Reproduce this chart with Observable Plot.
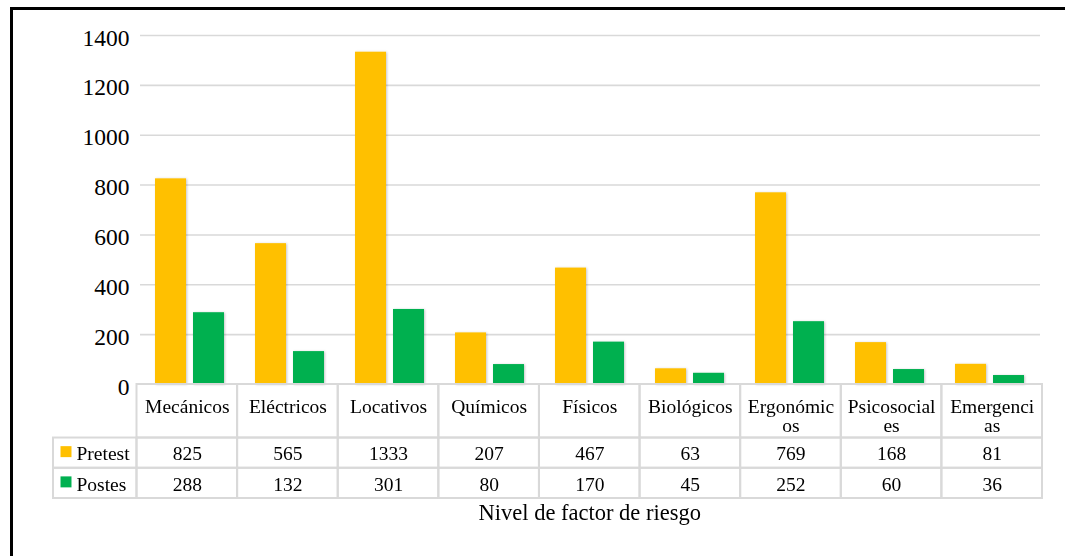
<!DOCTYPE html>
<html><head><meta charset="utf-8">
<script src="https://cdn.jsdelivr.net/npm/d3@7"></script>
<script src="https://cdn.jsdelivr.net/npm/@observablehq/plot@0.6"></script>
<style>
html,body{margin:0;padding:0;background:#fff;overflow:hidden;}
#wrap{position:relative;width:1065px;height:556px;overflow:hidden;background:#fff;}
#hline{position:absolute;left:9.5px;top:7px;width:1060px;height:3px;background:#000;}
#vline{position:absolute;left:9.5px;top:7px;width:3px;height:560px;background:#000;}
#chart,#table{position:absolute;left:0;top:0;}
</style></head><body>
<div id="wrap"><div id="hline"></div><div id="vline"></div><div id="chart"></div><div id="table"></div></div>
<script>
const categories = ["Mecánicos","Eléctricos","Locativos","Químicos","Físicos","Biológicos","Ergonómicos","Psicosociales","Emergencias"];
const tickLabels = ["Mecánicos","Eléctricos","Locativos","Químicos","Físicos","Biológicos","Ergonómic\nos","Psicosocial\nes","Emergenci\nas"];
const series = ["Pretest","Postes"];
const pretest = [825,565,1333,207,467,63,769,168,81];
const postes = [288,132,301,80,170,45,252,60,36];
const yTicks = [0,200,400,600,800,1000,1200,1400];
const colors = ["#FFC000","#00B050"];
const xTitle = "Nivel de factor de riesgo";

const values = {Pretest: pretest, Postes: postes};
const data = categories.flatMap((c,i) => series.map((s,j) => ({cat:c, ci:i, serie:s, si:j, value:values[s][i]})));

const font = '"Liberation Serif","Times New Roman",serif';
const grid = "#d9d9d9";

const chart = Plot.plot({
  width:1065, height:390, marginLeft:137, marginRight:23, marginTop:35, marginBottom:6,
  style:{fontFamily:font, fontSize:"23.5px", color:"#000", background:"transparent", overflow:"visible"},
  fx:{domain:categories, padding:0, axis:null},
  x:{domain:series, paddingInner:0.18, paddingOuter:0.38, axis:null},
  y:{domain:[0,1400], axis:null},
  color:{domain:series, range:colors},
  marks:[
    Plot.ruleY(yTicks.filter(d => d > 0), {stroke:grid, strokeWidth:1.6}),
    Plot.barY(data, {fx:"cat", x:"serie", y:"value", fill:"serie"}),
    Plot.axisY({ticks:yTicks, label:null, tickSize:0, tickPadding:11, tickFormat:d => String(d), fontSize:23.5, dy:2.5})
  ]
});
// subtle shadow like the original
const svg = d3.select(chart);
const defs = svg.insert("defs", ":first-child");
const f = defs.append("filter").attr("id","shadow").attr("x","-20%").attr("y","-20%").attr("width","140%").attr("height","140%");
f.append("feDropShadow").attr("dx",1).attr("dy",0.5).attr("stdDeviation",1).attr("flood-color","#000").attr("flood-opacity",0.22);
svg.selectAll('g[aria-label="bar"]').attr("filter","url(#shadow)");
document.getElementById("chart").appendChild(chart);

const legendW = 0.83;   // legend column width, in column units
const headerH = 1.77;   // header row height, in row units
const nRows = series.length;

const table = Plot.plot({
  width:1065, height:556, marginLeft:53, marginRight:23, marginTop:384, marginBottom:58,
  style:{fontFamily:font, fontSize:"19.5px", color:"#000", background:"transparent", overflow:"visible"},
  x:{domain:[-legendW, categories.length], axis:null},
  y:{domain:[0, headerH + nRows], reverse:true, axis:null},
  color:{domain:series, range:colors},
  marks:[
    Plot.rect(categories, {x1:(d,i) => i, x2:(d,i) => i + 1, y1:0, y2:headerH, stroke:grid, strokeWidth:2, fill:"none"}),
    Plot.rect(data, {x1:d => d.ci, x2:d => d.ci + 1, y1:d => headerH + d.si, y2:d => headerH + d.si + 1, stroke:grid, strokeWidth:2, fill:"none"}),
    Plot.rect(series, {x1:-legendW, x2:0, y1:(d,i) => headerH + i, y2:(d,i) => headerH + i + 1, stroke:grid, strokeWidth:2, fill:"none"}),
    Plot.text(tickLabels, {x:(d,i) => i + 0.5, y:0, text:d => d, lineAnchor:"top", dy:14.5, lineHeight:1, fill:"#000"}),
    Plot.text(data, {x:d => d.ci + 0.5, y:d => headerH + d.si + 0.5, text:d => String(d.value), lineAnchor:"middle", dy:1, fill:"#000"}),
    Plot.dot(series, {x:-legendW, y:(d,i) => headerH + i + 0.5, symbol:"square", r:6.2, fill:d => d, stroke:null, dx:12.5, dy:-1.5}),
    Plot.text(series, {x:-legendW, y:(d,i) => headerH + i + 0.5, text:d => d, textAnchor:"start", lineAnchor:"middle", dx:23, dy:1, fill:"#000"}),
    Plot.text([xTitle], {x:categories.length / 2, y:headerH + nRows, text:d => d, lineAnchor:"top", dy:5.5, fontSize:22.5, fill:"#000"})
  ]
});
document.getElementById("table").appendChild(table);
</script>
</body></html>
